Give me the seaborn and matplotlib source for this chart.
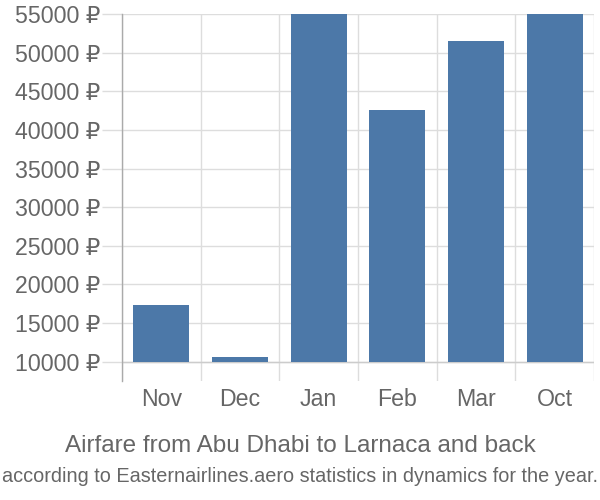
import numpy as np
import pandas as pd
import matplotlib
matplotlib.use("Agg")
import matplotlib.pyplot as plt
import seaborn as sns

months = ["Nov", "Dec", "Jan", "Feb", "Mar", "Oct"]
prices = [17340, 10570, 55000, 42600, 51550, 55000]
yticks = [10000, 15000, 20000, 25000, 30000, 35000, 40000, 45000, 50000, 55000]
ytick_labels = [f"{v} ₽" for v in yticks]
title = "Airfare from Abu Dhabi to Larnaca and back"
subtitle = "according to Easternairlines.aero statistics in dynamics for the year."

base = 10000
sns.set_theme(style="white")
plt.rcParams["font.family"] = ["Liberation Sans", "DejaVu Sans"]

df = pd.DataFrame({"month": months, "height": np.array(prices) - base})

fig = plt.figure(figsize=(6, 5), dpi=100)
ax = fig.add_axes([122 / 600, 1 - 381 / 500, (594 - 122) / 600, (381 - 14) / 500])

sns.barplot(data=df, x="month", y="height", bottom=base, color="#4c78a8",
            saturation=1, width=0.71, errorbar=None, ax=ax, zorder=3,
            linewidth=0)

ax.set_ylim(7500, 55000)
ax.set_xlim(-0.5, 5.5)
ax.set_yticks(yticks)
ax.set_yticklabels(ytick_labels)
ax.set_xticks(range(len(months)))
ax.set_xticklabels(months)
ax.set_xticks(np.arange(-0.5, len(months)), minor=True)

ax.grid(axis="y", which="major", color="#dddddd", linewidth=1, zorder=0)
ax.grid(axis="x", which="minor", color="#dddddd", linewidth=1, zorder=0)
ax.grid(axis="x", which="major", visible=False)
ax.axhline(base, color="#cccccc", linewidth=1, zorder=2)

for s in ["top", "right", "bottom"]:
    ax.spines[s].set_visible(False)
ax.spines["left"].set_color("#aaaaaa")
ax.spines["left"].set_linewidth(1)

ax.tick_params(axis="y", which="major", length=14.4, width=1, color="#dddddd",
               labelsize=16.7, labelcolor="#666666", pad=1.5, left=True)
ax.tick_params(axis="x", which="major", length=0, labelsize=16.7,
               labelcolor="#666666", pad=5)
ax.tick_params(axis="x", which="minor", length=0)
ax.set_xlabel("")
ax.set_ylabel("")

fig.text(0.5, 1 - 446 / 500, title, ha="center", va="center", fontsize=17.5,
         color="#666666")
fig.text(0.5, 1 - 476 / 500, subtitle, ha="center", va="center", fontsize=14.3,
         color="#666666")

fig.savefig("out.png", dpi=100)
